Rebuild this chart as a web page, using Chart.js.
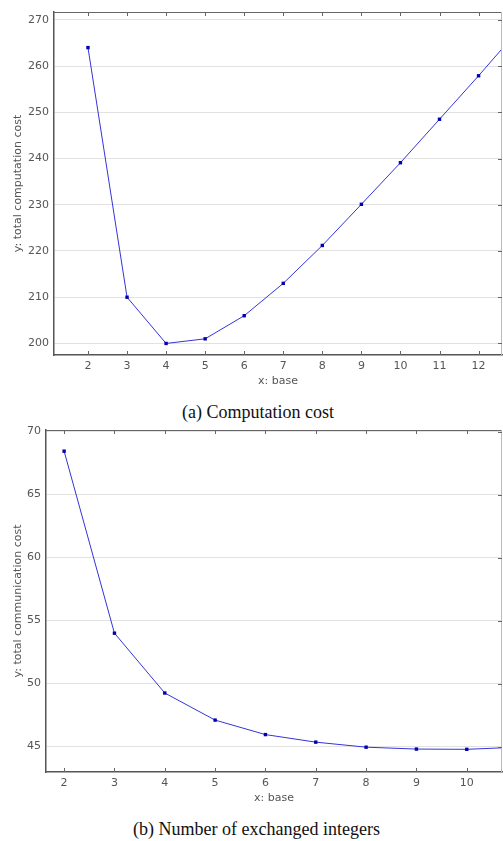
<!doctype html>
<html lang="en">
<head>
  <meta charset="utf-8">
  <title>Base vs cost</title>
  <script src="https://cdn.jsdelivr.net/npm/chart.js"></script>
  <style>
    body { margin: 0; background: #fff; }
    .panel { position: absolute; left: 0; }
    .caption {
      position: absolute;
      font-family: "Liberation Serif", "Times New Roman", serif;
      font-size: 18px;
      line-height: 18px;
      color: #111;
      white-space: nowrap;
    }
  </style>
</head>
<body>
  <div class="panel" style="top:0"><canvas id="compChart" width="503" height="395"></canvas></div>
  <div class="caption" style="top:403px; left:182px">(a) Computation cost</div>
  <div class="panel" style="top:418px"><canvas id="commChart" width="503" height="394"></canvas></div>
  <div class="caption" style="top:820px; left:133px">(b) Number of exchanged integers</div>

  <script>
    // (a) total computation cost per base
    const compBase  = [2, 3, 4, 5, 6, 7, 8, 9, 10, 11, 12, 13];
    const compCost  = [264, 210, 200, 201, 206, 213, 221.2, 230.1, 239.1, 248.5, 257.9, 267.6];
    const compXTicks = [2, 3, 4, 5, 6, 7, 8, 9, 10, 11, 12];
    const compYTicks = [200, 210, 220, 230, 240, 250, 260, 270];

    // (b) total communication cost per base
    const commBase  = [2, 3, 4, 5, 6, 7, 8, 9, 10, 11];
    const commCost  = [68.45, 54, 49.25, 47.1, 45.95, 45.35, 44.95, 44.8, 44.78, 44.95];
    const commXTicks = [2, 3, 4, 5, 6, 7, 8, 9, 10];
    const commYTicks = [45, 50, 55, 60, 65, 70];

    const tickFont = { family: 'DejaVu Sans', size: 11 };
    const textGray = '#555';

    // drop the label overflow padding so the plot runs to the edge
    function noPad(s) {
      s.paddingLeft = s.paddingRight = s.paddingTop = s.paddingBottom = 0;
    }

    // top/right frame plus the small inward tick marks
    const framePlugin = {
      id: 'frame',
      afterDraw(chart) {
        const { ctx, chartArea: a, scales: { x, y } } = chart;
        ctx.save();
        ctx.lineWidth = 1;
        ctx.strokeStyle = '#666';
        ctx.beginPath();
        ctx.moveTo(a.left, a.top + 0.5);
        ctx.lineTo(a.right, a.top + 0.5);
        ctx.stroke();
        ctx.strokeStyle = '#bbb';
        ctx.beginPath();
        ctx.moveTo(a.right - 0.5, a.top);
        ctx.lineTo(a.right - 0.5, a.bottom);
        ctx.stroke();
        ctx.strokeStyle = '#666';
        ctx.beginPath();
        x.ticks.forEach(t => {
          const px = Math.round(x.getPixelForValue(t.value)) + 0.5;
          ctx.moveTo(px, a.bottom); ctx.lineTo(px, a.bottom - 4);
          ctx.moveTo(px, a.top); ctx.lineTo(px, a.top + 4);
        });
        y.ticks.forEach(t => {
          const py = Math.round(y.getPixelForValue(t.value)) + 0.5;
          ctx.moveTo(a.right, py); ctx.lineTo(a.right - 4, py);
        });
        ctx.stroke();
        ctx.restore();
      }
    };

    function makeChart(id, xs, ys, xTicks, yTicks, xRange, yRange, yWidth, yTitle) {
      return new Chart(document.getElementById(id), {
        type: 'line',
        data: {
          datasets: [{
            data: xs.map((v, i) => ({ x: v, y: ys[i] })),
            borderColor: '#3434d8',
            borderWidth: 1,
            pointStyle: 'rect',
            pointRadius: 2.4,
            pointBorderWidth: 0,
            pointBackgroundColor: '#0000b0',
            tension: 0
          }]
        },
        options: {
          responsive: false,
          animation: false,
          layout: { autoPadding: false, padding: { top: 12, right: 1, left: 0, bottom: 0 } },
          plugins: { legend: { display: false }, tooltip: { enabled: false } },
          scales: {
            x: {
              type: 'linear',
              min: xRange[0],
              max: xRange[1],
              afterBuildTicks: s => { s.ticks = xTicks.map(v => ({ value: v })); },
              afterFit: s => { s.height = 40; noPad(s); },
              grid: { display: true, drawOnChartArea: false, drawTicks: false },
              border: { color: '#555', width: 1.5 },
              ticks: { font: tickFont, color: textGray, padding: 5, maxRotation: 0 },
              title: {
                display: true, text: 'x: base', font: tickFont, color: textGray,
                padding: { top: 0, bottom: 7 }
              }
            },
            y: {
              type: 'linear',
              min: yRange[0],
              max: yRange[1],
              afterBuildTicks: s => { s.ticks = yTicks.map(v => ({ value: v })); },
              afterFit: s => { s.width = yWidth; noPad(s); },
              grid: { color: '#e2e2e2', drawTicks: false },
              border: { color: '#555', width: 1.5 },
              ticks: { font: tickFont, color: textGray, padding: 5 },
              title: {
                display: true, text: yTitle, font: tickFont, color: textGray,
                padding: { top: 11.4, bottom: 11.4 }
              }
            }
          }
        },
        plugins: [framePlugin]
      });
    }

    makeChart('compChart', compBase, compCost, compXTicks, compYTicks,
      [1.13, 12.6], [197.5, 271.7], 54, 'y: total computation cost');
    makeChart('commChart', commBase, commCost, commXTicks, commYTicks,
      [1.64, 10.7], [42.98, 70.13], 46, 'y: total communication cost');
  </script>
</body>
</html>
